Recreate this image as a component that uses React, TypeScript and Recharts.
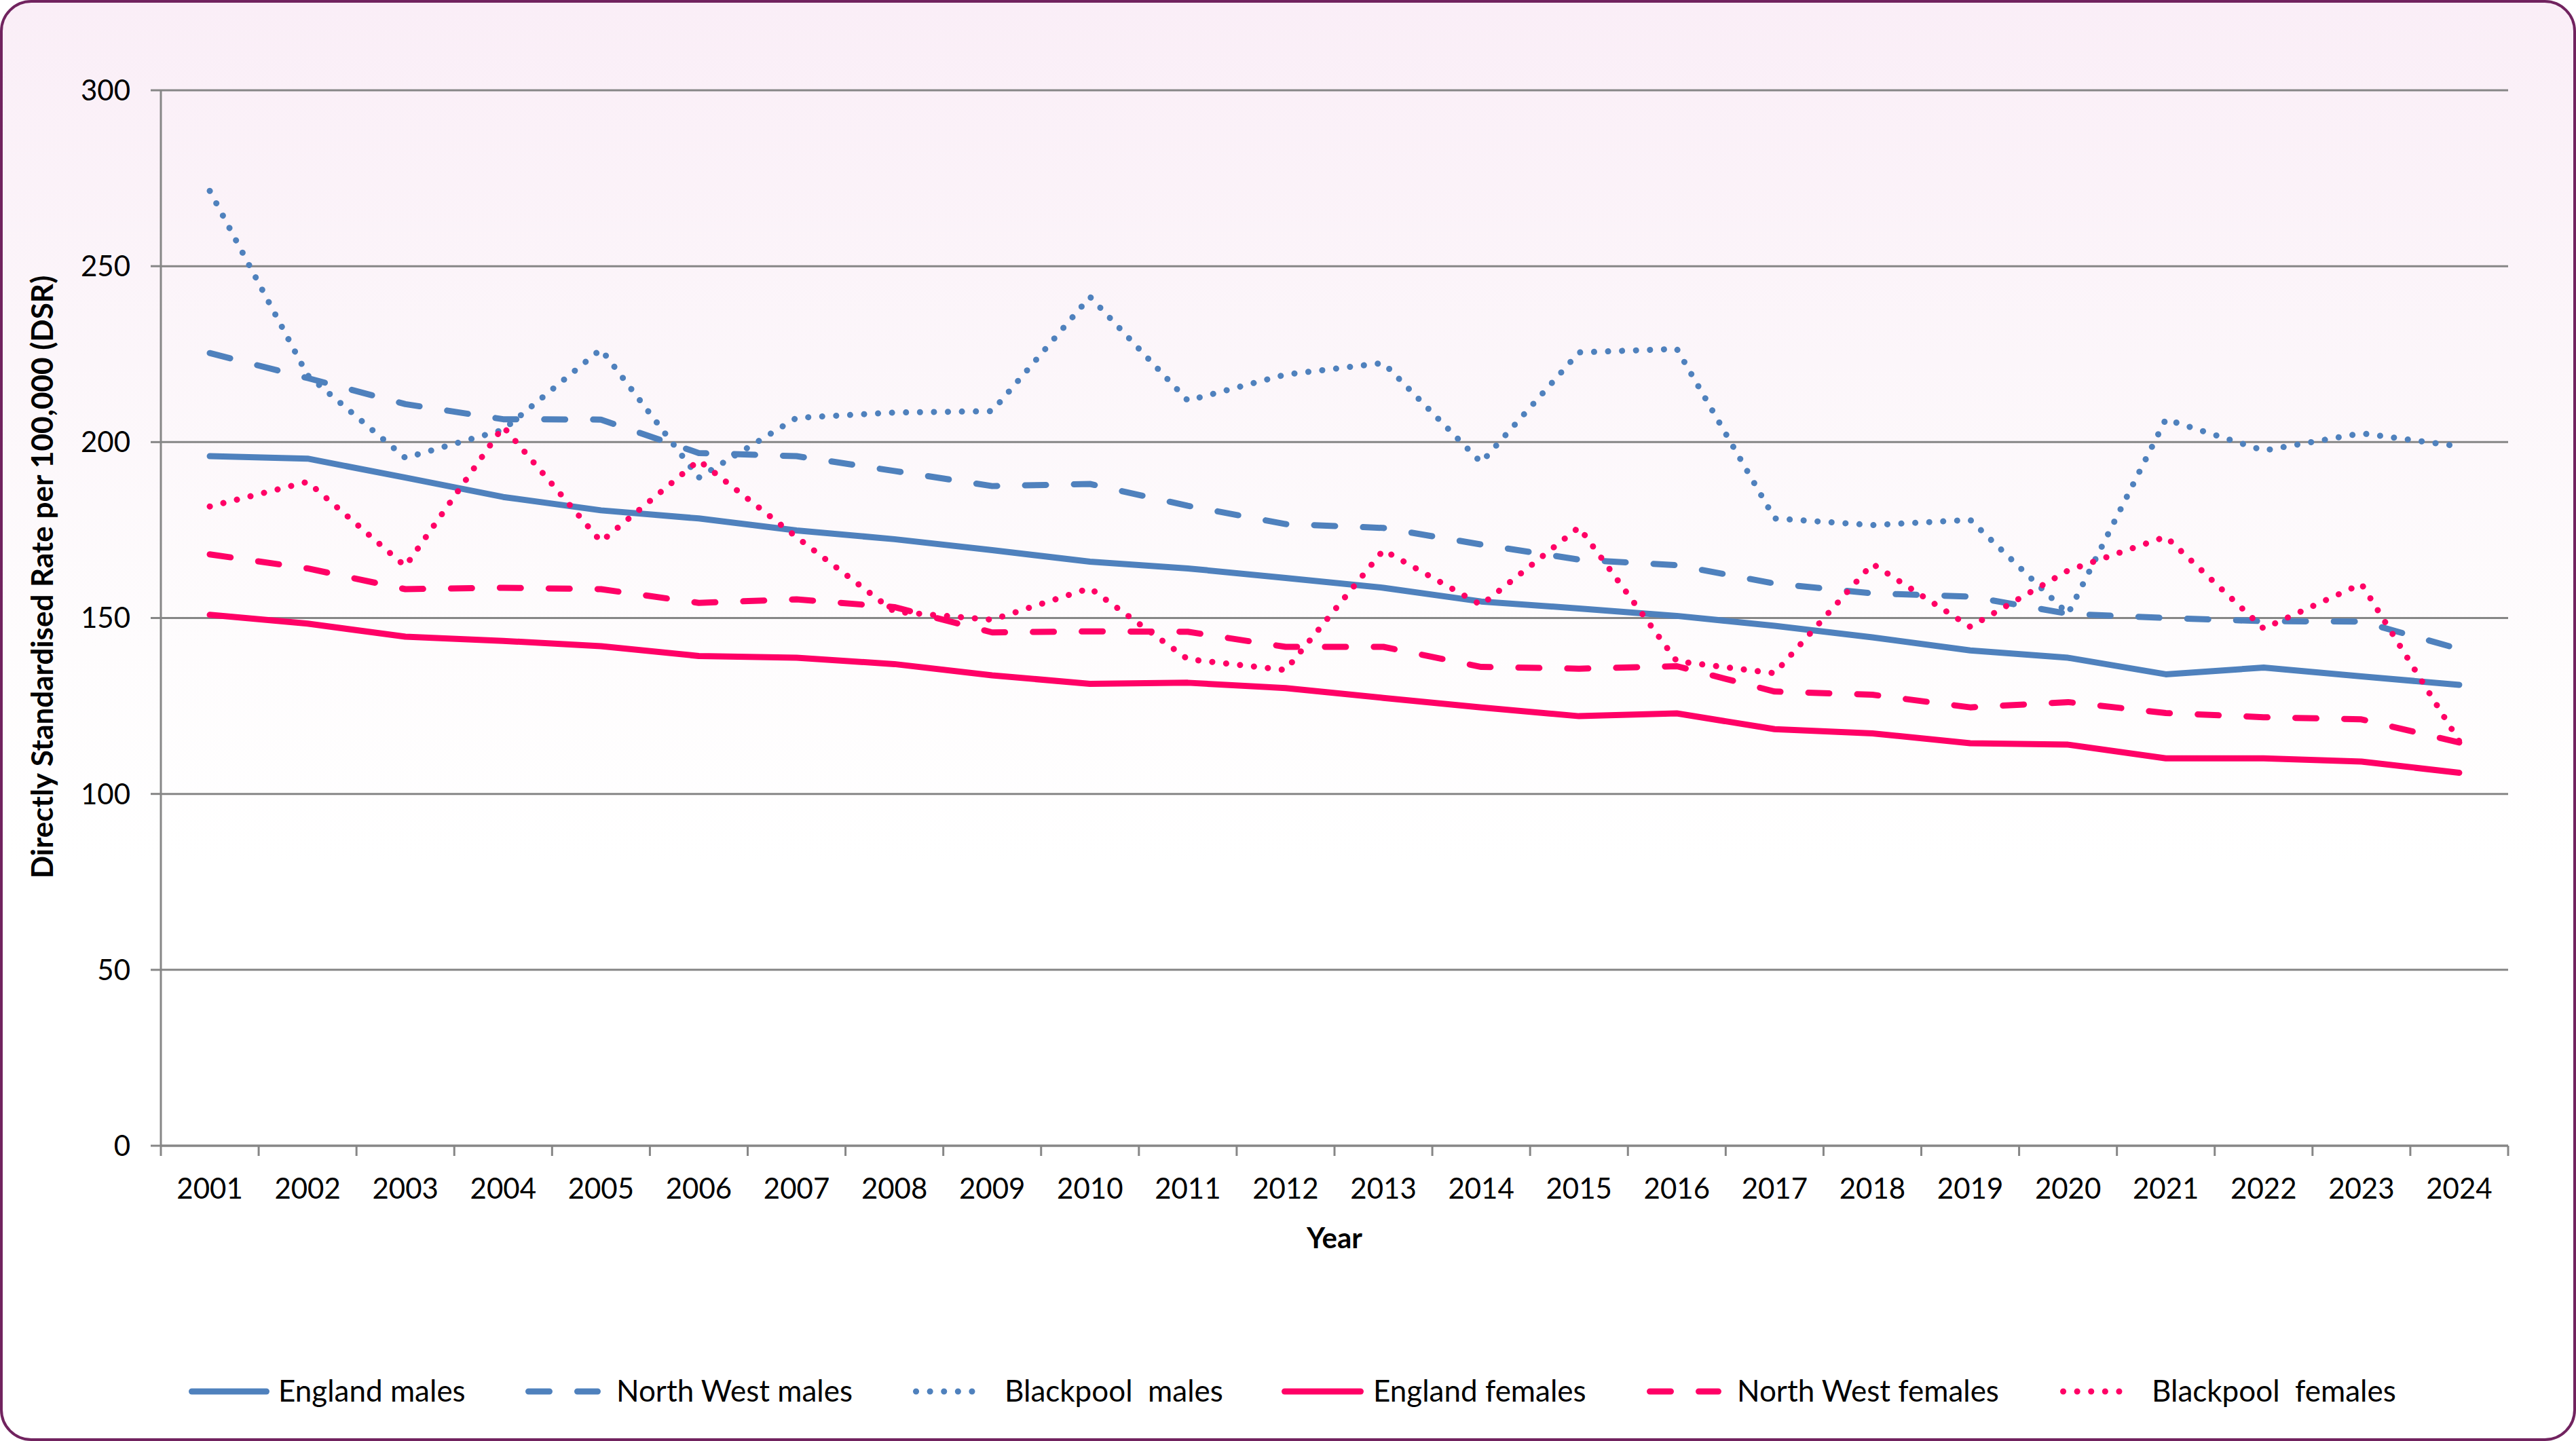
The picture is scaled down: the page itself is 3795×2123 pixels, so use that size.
import React from 'react';
import { LineChart, Line, XAxis, YAxis, CartesianGrid } from 'recharts';

const years = ['2001', '2002', '2003', '2004', '2005', '2006', '2007', '2008', '2009', '2010', '2011', '2012',
  '2013', '2014', '2015', '2016', '2017', '2018', '2019', '2020', '2021', '2022', '2023', '2024'];

const englandMales = [196.0, 195.3, 189.9, 184.4, 180.6, 178.3, 174.9, 172.4, 169.3, 166.0, 164.1, 161.4,
  158.6, 154.7, 152.7, 150.6, 147.8, 144.5, 140.8, 138.7, 134.0, 135.9, 133.4, 131.0];
const northWestMales = [225.3, 218.2, 210.8, 206.5, 206.4, 196.9, 196.0, 191.8, 187.5, 188.1, 181.9, 176.7,
  175.6, 170.9, 166.6, 165.0, 159.8, 157.0, 156.1, 151.2, 150.0, 149.1, 149.0, 141.2];
const blackpoolMales = [271.4, 219.0, 195.5, 203.5, 226.4, 189.9, 206.9, 208.4, 208.8, 241.3, 211.8, 219.2,
  222.5, 194.2, 225.5, 226.5, 178.3, 176.4, 177.9, 151.2, 206.5, 197.6, 202.5, 198.8];
const englandFemales = [150.9, 148.4, 144.7, 143.5, 142.0, 139.2, 138.7, 136.9, 133.7, 131.3, 131.6, 130.1,
  127.3, 124.6, 122.1, 122.9, 118.4, 117.2, 114.4, 114.0, 110.1, 110.1, 109.2, 106.0];
const northWestFemales = [168.1, 164.1, 158.2, 158.6, 158.2, 154.3, 155.3, 153.1, 145.9, 146.2, 146.1, 141.8,
  141.8, 136.1, 135.6, 136.3, 129.1, 128.2, 124.6, 126.1, 123.0, 121.8, 121.2, 114.6];
const blackpoolFemales = [181.7, 188.7, 164.7, 204.4, 171.7, 194.8, 173.0, 151.8, 149.5, 158.5, 138.3, 135.2,
  169.3, 153.7, 175.8, 137.7, 134.3, 165.4, 147.5, 163.5, 173.1, 147.0, 159.7, 115.0];

const yTicks = [0, 50, 100, 150, 200, 250, 300];

const BLUE = '#4F81BD';
const PINK = '#FF0066';
const GRID = '#868686';
const FONT = 'Lato, "Open Sans", sans-serif';
const TICK_SIZE = 15;
const X_TICK_GAP = 33;

const DASH = '31 41';
const DOT = '0.1 20.5';

const seriesList = [
  { key: 'englandMales', name: 'England males', color: BLUE, dash: undefined as string | undefined },
  { key: 'northWestMales', name: 'North West males', color: BLUE, dash: DASH },
  { key: 'blackpoolMales', name: 'Blackpool  males', color: BLUE, dash: DOT },
  { key: 'englandFemales', name: 'England females', color: PINK, dash: undefined as string | undefined },
  { key: 'northWestFemales', name: 'North West females', color: PINK, dash: DASH },
  { key: 'blackpoolFemales', name: 'Blackpool  females', color: PINK, dash: DOT },
];

const data = years.map((year, i) => ({
  year,
  englandMales: englandMales[i],
  northWestMales: northWestMales[i],
  blackpoolMales: blackpoolMales[i],
  englandFemales: englandFemales[i],
  northWestFemales: northWestFemales[i],
  blackpoolFemales: blackpoolFemales[i],
}));

// legend placement (sample start, sample end, text start)
const legendPos = [
  [278, 397, 410],
  [774, 885, 908],
  [1345, 1455, 1480],
  [1888, 2009, 2023],
  [2426, 2536, 2559],
  [3035, 3144, 3170],
];

// Excel-style: tick marks sit between categories, labels in the middle
const YearTick = (props: any) => {
  const { x, y, payload, index } = props;
  const half = payload?.offset ?? 0;
  const axisY = y - TICK_SIZE - X_TICK_GAP;
  return (
    <g>
      <line x1={x - half} x2={x - half} y1={axisY} y2={axisY + TICK_SIZE} stroke={GRID} strokeWidth={3} />
      {index === years.length - 1 && (
        <line x1={x + half} x2={x + half} y1={axisY} y2={axisY + TICK_SIZE} stroke={GRID} strokeWidth={3} />
      )}
      <text x={x} y={y} dy="0.71em" textAnchor="middle" fontFamily={FONT} fontSize={42} fill="#000">
        {payload.value}
      </text>
    </g>
  );
};

const LegendRow = () => (
  <>
    {seriesList.map((s, i) => {
      const [x1, x2, tx] = legendPos[i];
      return (
        <React.Fragment key={s.key}>
          <svg style={{ position: 'absolute', left: x1 - 6, top: 2050 - 10 }} width={x2 - x1 + 12} height={20}>
            <line x1={10.5} x2={x2 - x1 + 1.5} y1={10} y2={10} stroke={s.color} strokeWidth={9}
              strokeLinecap="round" strokeDasharray={s.dash} />
          </svg>
          <div style={{ position: 'absolute', left: tx, top: 2048 - 28, height: 56, lineHeight: '56px',
            fontFamily: FONT, fontSize: 44, color: '#000', whiteSpace: 'pre' }}>
            {s.name}
          </div>
        </React.Fragment>
      );
    })}
  </>
);

export default function App() {
  return (
    <div style={{
      position: 'absolute', left: 0, top: 0, width: 3795, height: 2123, boxSizing: 'border-box',
      border: '4px solid #71235F', borderRadius: 46,
      background: 'linear-gradient(to bottom, #FAEEF7 0%, #FCF6FA 25%, #FEFCFD 45%, #FFFFFF 60%)',
    }}>
      <div style={{ position: 'absolute', left: -4, top: -4 }}>
        <LineChart width={3795} height={2123} data={data}
          margin={{ top: 133, right: 100, left: 0, bottom: 335 }}>
          <CartesianGrid vertical={false} stroke={GRID} strokeWidth={3} />
          <XAxis dataKey="year" scale="band" height={100} axisLine={{ stroke: GRID, strokeWidth: 3 }} tickLine={false}
            tickSize={TICK_SIZE} tickMargin={X_TICK_GAP} interval={0} tick={<YearTick />}
            label={{
              content: (p: any) => {
                const vb = p.viewBox || {};
                return (
                  <text x={vb.x + vb.width / 2} y={1839} textAnchor="middle" fontFamily={FONT}
                    fontSize={42} fontWeight="bold" fill="#000">Year</text>
                );
              },
            }} />
          <YAxis width={237} domain={[0, 300]} ticks={yTicks} interval={0}
            axisLine={{ stroke: GRID, strokeWidth: 3 }} tickLine={{ stroke: GRID, strokeWidth: 3 }}
            tickSize={TICK_SIZE} tickMargin={30}
            tick={{ fontFamily: FONT, fontSize: 42, fill: '#000' }}
            label={{
              content: () => (
                <text x={61} y={850} transform="rotate(-90 61 850)" textAnchor="middle"
                  dominantBaseline="central" fontFamily={FONT} fontSize={44} fontWeight="bold" fill="#000">
                  Directly Standardised Rate per 100,000 (DSR)
                </text>
              ),
            }} />
          {seriesList.map((s) => (
            <Line key={s.key} type="linear" dataKey={s.key} name={s.name} stroke={s.color} strokeWidth={9}
              strokeDasharray={s.dash} strokeLinecap="round" strokeLinejoin="round"
              dot={false} activeDot={false} isAnimationActive={false} />
          ))}
        </LineChart>
      </div>
      <div style={{ position: 'absolute', left: -4, top: -4 }}>
        <LegendRow />
      </div>
    </div>
  );
}
